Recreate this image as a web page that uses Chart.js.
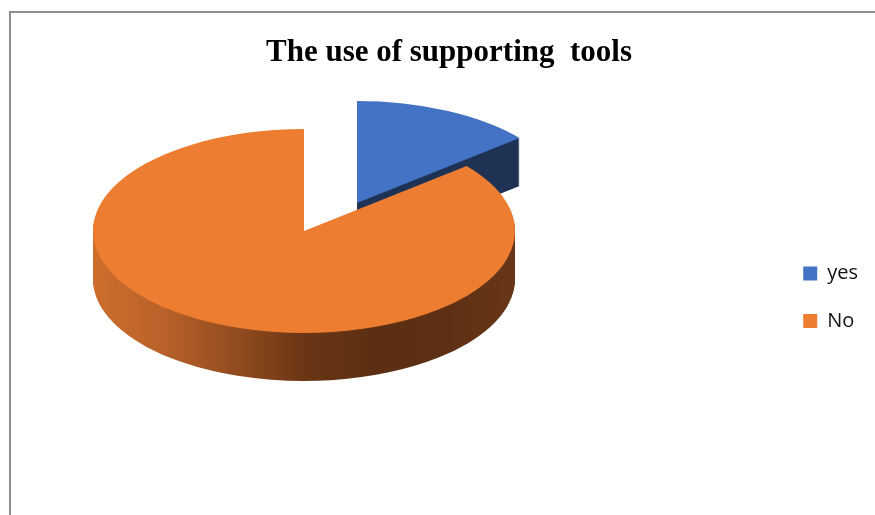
<!DOCTYPE html>
<html><head><meta charset="utf-8">
<script src="https://cdn.jsdelivr.net/npm/chart.js@4/dist/chart.umd.min.js"></script>
<style>
html,body{margin:0;padding:0;background:#fff;overflow:hidden;width:875px;height:515px}
#frame{position:absolute;left:9px;top:11px;width:1000px;height:1000px;border-left:2px solid #8f8f8f;border-top:2px solid #8f8f8f;box-sizing:border-box}
#wrap{position:absolute;left:0;top:0;width:875px;height:515px}
</style></head><body>
<div id="frame"></div>
<div id="wrap"><canvas id="c" width="875" height="515"></canvas></div>
<script>
// ---- data ----
const categories = ['yes', 'No'];
const values = [14, 86];
const chartTitle = 'The use of supporting  tools';

// ---- styles ----
const topColors = ['#4472c4', '#ed7d31'];
const sideColors = [
  ['#1f3356', '#1f3254'],
  ['#cd6e2d', '#b9622a', '#934c1f', '#6a3615', '#5c2f12', '#5e3013', '#683618']
];

function cloneArc(el, color) {
  const c = Object.create(Object.getPrototypeOf(el));
  Object.assign(c, el);
  c.options = Object.assign({}, el.options, {backgroundColor: color, borderWidth: 0});
  return c;
}

const pie3d = {
  id: 'pie3d',
  beforeDatasetsDraw(chart, args, o) {
    const ctx = chart.ctx;
    const meta = chart.getDatasetMeta(0);
    meta.data.forEach((el, i) => {
      if (!el || !el.circumference) return;
      const R = el.outerRadius;
      const sx = o.radiusX / R, sy = o.radiusY / R;
      const ex = o.explode[i] || {x: 0, y: 0};
      const place = (dy) => {
        ctx.translate(o.centerX + ex.x, o.centerY + ex.y + dy);
        ctx.scale(sx, sy);
        ctx.translate(-el.x, -el.y);
      };
      const sc = sideColors[i];
      const grad = ctx.createLinearGradient(el.x - R, 0, el.x + R, 0);
      sc.forEach((c, k) => grad.addColorStop(k / (sc.length - 1), c));
      const sideEl = cloneArc(el, grad);
      for (let d = o.depth; d >= 1; d--) {
        ctx.save(); place(d); sideEl.draw(ctx); ctx.restore();
      }
      ctx.save(); place(0); el.draw(ctx); ctx.restore();
    });
    return false;
  }
};

new Chart(document.getElementById('c'), {
  type: 'pie',
  data: {
    labels: categories,
    datasets: [{
      data: values,
      backgroundColor: topColors,
      borderWidth: 0
    }]
  },
  plugins: [pie3d],
  options: {
    responsive: false,
    animation: false,
    events: [],
    layout: {padding: {left: 30, right: 7, top: 0, bottom: 0}},
    plugins: {
      title: {
        display: true,
        text: chartTitle,
        color: '#000',
        font: {family: "'Liberation Serif', 'Times New Roman', serif", size: 31, weight: 'bold'},
        padding: {top: 34, bottom: 8.5}
      },
      legend: {
        position: 'right',
        align: 'center',
        fullSize: false,
        labels: {
          boxWidth: 14,
          boxHeight: 14,
          padding: 27.5,
          color: '#111',
          font: {family: "'Open Sans', sans-serif", size: 20}
        }
      },
      tooltip: {enabled: false},
      pie3d: {
        centerX: 304, centerY: 231, radiusX: 211, radiusY: 102, depth: 48,
        explode: [{x: 53, y: -28}, {x: 0, y: 0}]
      }
    }
  }
});
</script>
</body></html>
